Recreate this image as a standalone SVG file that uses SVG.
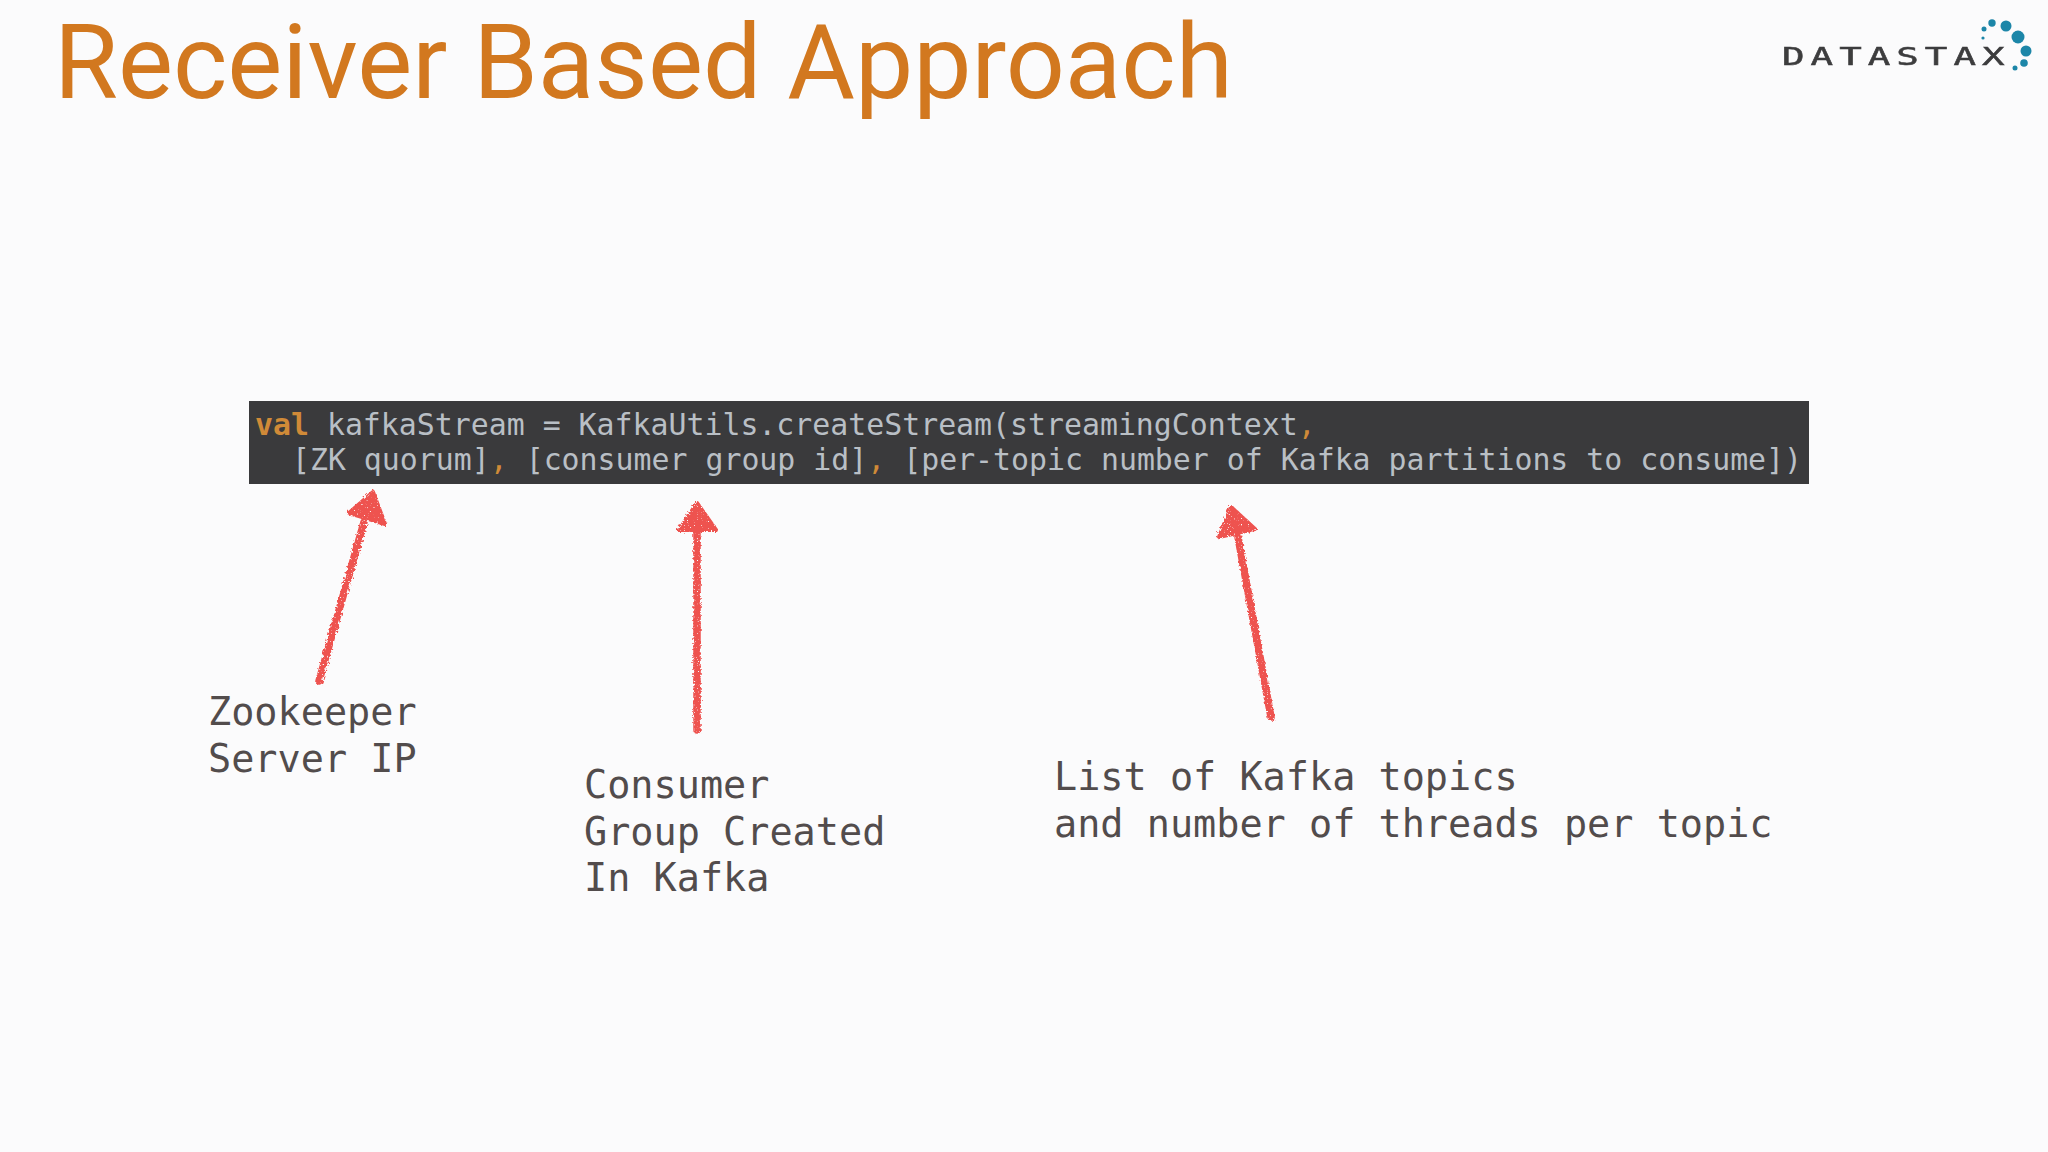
<svg xmlns="http://www.w3.org/2000/svg" width="2048" height="1152" viewBox="0 0 2048 1152">
<style>
.title{font-family:Roboto,"Liberation Sans",sans-serif;font-size:103.8px;fill:#d2781f}
.code{font-family:"DejaVu Sans Mono","Liberation Mono",monospace;font-size:29.87px;fill:#b9bfc5;white-space:pre}
.kw{fill:#d08a38;font-weight:bold}
.pn{fill:#d08a38}
.lbl{font-family:"DejaVu Sans Mono","Liberation Mono",monospace;font-size:38.5px;fill:#524c4c}
.shaft{fill:none;stroke:#ee5350;stroke-width:7.5;stroke-linecap:round}
.head{fill:#ee5350;stroke:#ee5350;stroke-width:4;stroke-linejoin:round}
.logo{font-family:"DejaVu Sans Mono",monospace;font-size:25px;letter-spacing:4px;fill:#3c3c3e;stroke:#3c3c3e;stroke-width:.5}
.dot{fill:#1f86a8}
</style>
<defs>
<filter id="chalk" x="-30%" y="-10%" width="160%" height="120%">
<feTurbulence type="fractalNoise" baseFrequency="0.45" numOctaves="2" seed="4" result="n"/>
<feDisplacementMap in="SourceGraphic" in2="n" scale="5" result="d"/>
<feTurbulence type="fractalNoise" baseFrequency="0.7" numOctaves="1" seed="9" result="s"/>
<feColorMatrix in="s" type="matrix" values="0 0 0 0 0 0 0 0 0 0 0 0 0 0 0 9 0 0 0 -2.1" result="m"/>
<feComposite in="d" in2="m" operator="in" result="c"/>
<feGaussianBlur in="c" stdDeviation="0.35"/>
</filter>
<filter id="soft" x="-5%" y="-20%" width="110%" height="140%"><feGaussianBlur stdDeviation="0.7"/></filter>
</defs>
<rect width="2048" height="1152" fill="#fbfbfc"/>
<g id="title"><text class="title" x="54" y="98">Receiver Based Approach</text></g>
<g id="logo" filter="url(#soft)">
<text class="logo" transform="translate(1782 65) scale(1.5 1)">DATASTAX</text>
<circle class="dot" cx="1992" cy="23" r="3.7"/><circle class="dot" cx="2006" cy="26" r="5.5"/><circle class="dot" cx="2018" cy="37" r="6.5"/><circle class="dot" cx="2026" cy="51" r="5.5"/><circle class="dot" cx="2024" cy="63" r="3.8"/><circle class="dot" cx="2015" cy="68" r="2.5"/><circle class="dot" cx="1984" cy="29" r="2.5"/><circle class="dot" cx="1983" cy="38" r="1.6"/>
</g>
<g id="code">
<rect x="249" y="401" width="1560" height="83" fill="#3a3a3c"/>
<text class="code" x="255" y="435"><tspan class="kw">val</tspan> kafkaStream = KafkaUtils.createStream(streamingContext<tspan class="pn">,</tspan></text>
<text class="code" x="256" y="470">  [ZK quorum]<tspan class="pn">,</tspan> [consumer group id]<tspan class="pn">,</tspan> [per-topic number of Kafka partitions to consume])</text>
</g>
<g id="connectors" filter="url(#chalk)">
<path class="shaft" d="M319 681L364 522"/><path class="head" d="M373 492L349 513L385 524Z"/>
<path class="shaft" d="M697 730L697 532"/><path class="head" d="M697 503L679 530L716 530Z"/>
<path class="shaft" d="M1271 717L1238 537"/><path class="head" d="M1231 507L1219 537L1255 529Z"/>
</g>
<g id="label-zookeeper"><text class="lbl" x="208" y="725">Zookeeper</text><text class="lbl" x="208" y="772">Server IP</text></g>
<g id="label-consumer"><text class="lbl" x="584" y="798">Consumer</text><text class="lbl" x="584" y="845">Group Created</text><text class="lbl" x="584" y="891">In Kafka</text></g>
<g id="label-topics"><text class="lbl" x="1054" y="790">List of Kafka topics</text><text class="lbl" x="1054" y="837">and number of threads per topic</text></g>
</svg>
